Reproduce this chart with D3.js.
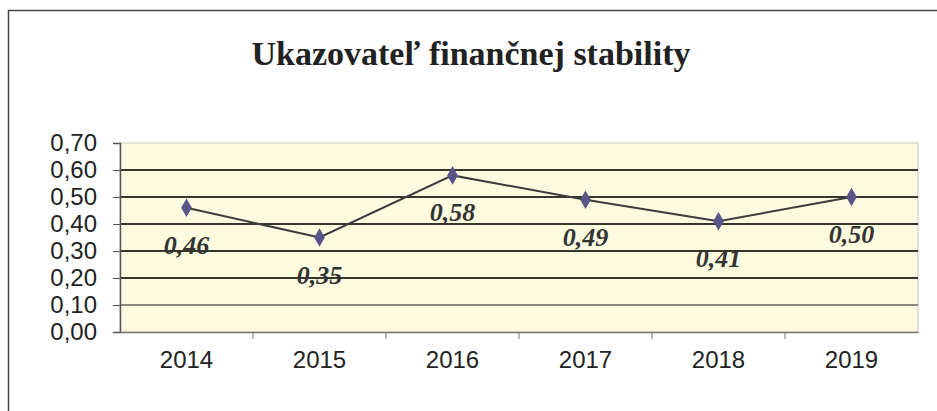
<!DOCTYPE html>
<html>
<head>
<meta charset="utf-8">
<script src="https://cdn.jsdelivr.net/npm/d3@7"></script>
<style>
  body { margin: 0; background: #fff; }
</style>
</head>
<body>
<div id="chart"></div>
<script>
"use strict";

const title = "Ukazovateľ finančnej stability";
const years = ["2014", "2015", "2016", "2017", "2018", "2019"];
const values = [0.46, 0.35, 0.58, 0.49, 0.41, 0.50];
const yTicks = [0, 0.1, 0.2, 0.3, 0.4, 0.5, 0.6, 0.7];

const plot = {
    width: 937,
    height: 411,
    left: 120,
    right: 918,
    top: 143,
    bottom: 332
}

const fmt = (v) => d3.format(".2f")(v).replace(".", ",");

window.onload = function () {
    let svg = d3.select("#chart")
        .append("svg")
        .attr("width", plot.width)
        .attr("height", plot.height);

    // outer frame (only left and top visible in the scan)
    svg.append("path")
        .attr("d", "M8.5," + plot.height + "V10.5H" + plot.width)
        .attr("fill", "none")
        .attr("stroke", "#444")
        .attr("stroke-width", 1.5);

    svg.append("text")
        .attr("x", 471)
        .attr("y", 65)
        .attr("text-anchor", "middle")
        .attr("font-family", "Liberation Serif, Times New Roman, serif")
        .attr("font-weight", "bold")
        .style("font-size", "34px")
        .attr("fill", "#222")
        .text(title);

    let xScale = d3.scaleBand()
        .domain(years)
        .range([plot.left, plot.right]);

    let yScale = d3.scaleLinear()
        .domain([0, 0.7])
        .range([plot.bottom, plot.top]);

    // plot area
    svg.append("rect")
        .attr("x", plot.left)
        .attr("y", plot.top)
        .attr("width", plot.right - plot.left)
        .attr("height", plot.bottom - plot.top)
        .attr("fill", "#fdfbdf")
        .attr("stroke", "#c8c8c0")
        .attr("stroke-width", 1);

    // gridlines
    svg.selectAll(".grid")
        .data(yTicks.filter((t) => t > 0 && t < 0.7))
        .enter()
        .append("line")
        .attr("x1", plot.left)
        .attr("x2", plot.right)
        .attr("y1", (d) => yScale(d))
        .attr("y2", (d) => yScale(d))
        .attr("stroke", (d) => d < 0.15 ? "#8a8a7a" : "#36362a")
        .attr("stroke-width", 2.2);

    // y axis
    let yAxis = d3.axisLeft(yScale)
        .tickValues(yTicks)
        .tickFormat(fmt)
        .tickSize(7)
        .tickPadding(16);
    let gy = svg.append("g")
        .attr("transform", "translate(" + plot.left + ",0)")
        .call(yAxis);
    gy.select(".domain").attr("stroke", "#555").attr("stroke-width", 1.5);
    gy.selectAll(".tick line").attr("stroke", "#555");
    gy.selectAll(".tick text")
        .attr("font-family", "Arial, Liberation Sans, sans-serif")
        .style("font-size", "24px")
        .attr("fill", "#222");

    // x axis
    let xAxis = d3.axisBottom(xScale)
        .tickSize(0)
        .tickPadding(19);
    let gx = svg.append("g")
        .attr("transform", "translate(0," + plot.bottom + ")")
        .call(xAxis);
    gx.select(".domain").attr("stroke", "#777").attr("stroke-width", 1.5);
    gx.selectAll(".tick text")
        .attr("font-family", "Arial, Liberation Sans, sans-serif")
        .style("font-size", "24px")
        .attr("fill", "#222");

    // tick marks between categories
    gx.selectAll(".sep")
        .data(years.slice(1))
        .enter()
        .append("line")
        .attr("x1", (d) => xScale(d))
        .attr("x2", (d) => xScale(d))
        .attr("y1", 0)
        .attr("y2", 7)
        .attr("stroke", "#777");

    let cx = (d, i) => xScale(years[i]) + xScale.bandwidth() / 2;

    svg.append("path")
        .datum(values)
        .attr("fill", "none")
        .attr("stroke", "#3c3c3c")
        .attr("stroke-width", 2)
        .attr("d", d3.line()
            .x(cx)
            .y((d) => yScale(d)));

    svg.selectAll(".dot")
        .data(values)
        .enter()
        .append("path")
        .attr("d", d3.symbol().type(d3.symbolDiamond).size(100))
        .attr("transform", (d, i) => "translate(" + cx(d, i) + "," + yScale(d) + ")")
        .attr("fill", "#5a5488");

    svg.selectAll(".lbl")
        .data(values)
        .enter()
        .append("text")
        .attr("x", cx)
        .attr("y", (d) => yScale(d) + 46)
        .attr("text-anchor", "middle")
        .attr("font-family", "Liberation Serif, Times New Roman, serif")
        .attr("font-weight", "bold")
        .attr("font-style", "italic")
        .style("font-size", "26px")
        .attr("fill", "#333")
        .text(fmt);
}
</script>
</body>
</html>
